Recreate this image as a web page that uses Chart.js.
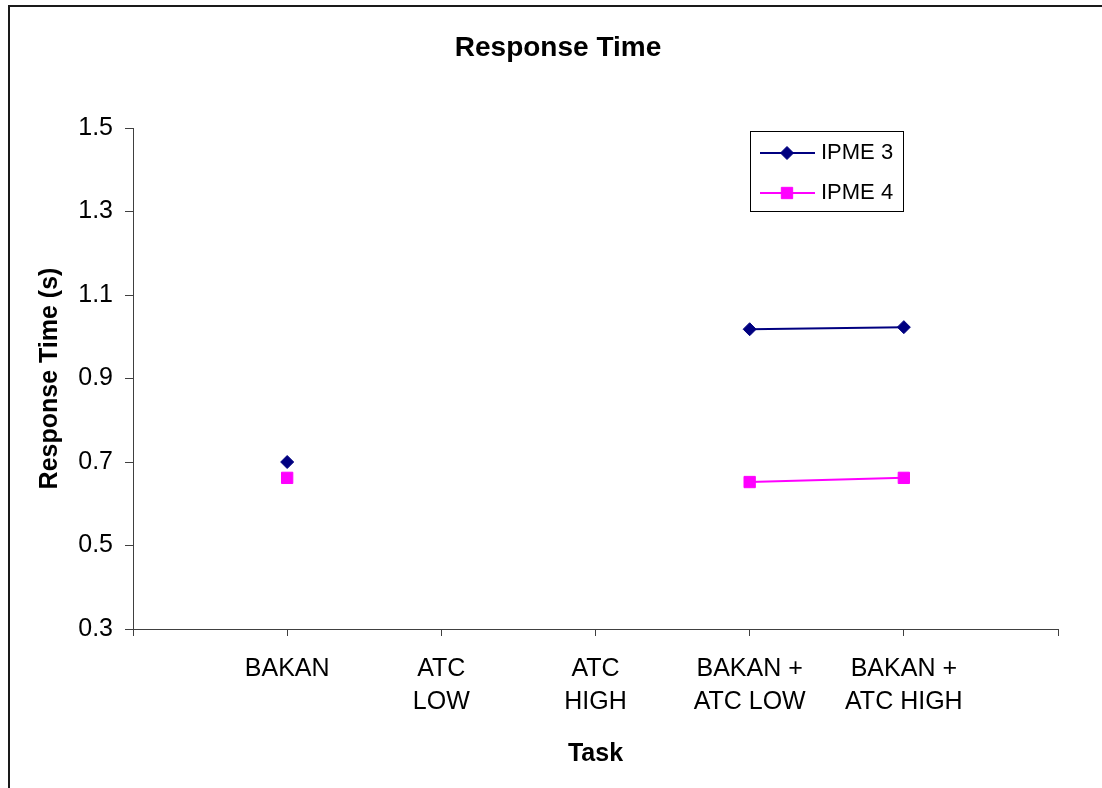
<!DOCTYPE html>
<html>
<head>
<meta charset="utf-8">
<title>Response Time</title>
<script src="https://cdn.jsdelivr.net/npm/chart.js@4.4.1/dist/chart.umd.min.js"></script>
<style>
  html, body { margin: 0; padding: 0; background: #fff; overflow: hidden; }
  #wrap { position: relative; width: 1102px; height: 788px; }
</style>
</head>
<body>
<div id="wrap"><canvas id="rt-chart"></canvas></div>
<script>
// values
const chartTitle = 'Response Time';
const categories = [['BAKAN'], ['ATC', 'LOW'], ['ATC', 'HIGH'], ['BAKAN +', 'ATC LOW'], ['BAKAN +', 'ATC HIGH']];
const ipme3 = [0.700, null, null, 1.018, 1.023];
const ipme4 = [0.662, null, null, 0.652, 0.662];
const yTicks = [0.3, 0.5, 0.7, 0.9, 1.1, 1.3, 1.5];

const FONT = "'Liberation Sans', Arial, sans-serif";
const AXIS = '#404040';

Chart.defaults.font.family = FONT;
Chart.defaults.color = '#000';

// excel puts the points on tick marks, with an empty slot at each end
const labels = ['', ...categories, ''];
const pad = (arr) => [null, ...arr, null];

// chart border: only the left and top edges are in the picture
const frame = {
  id: 'frame',
  beforeDraw(chart) {
    const ctx = chart.ctx;
    ctx.save();
    ctx.strokeStyle = '#1a1a1a';
    ctx.lineWidth = 2;
    ctx.beginPath();
    ctx.moveTo(9, chart.height);
    ctx.lineTo(9, 6);
    ctx.lineTo(chart.width, 6);
    ctx.stroke();
    ctx.restore();
  }
};

const titleText = {
  id: 'titleText',
  afterDraw(chart) {
    const ctx = chart.ctx;
    ctx.save();
    ctx.font = `bold 28px ${FONT}`;
    ctx.fillStyle = '#000';
    ctx.textAlign = 'center';
    ctx.textBaseline = 'alphabetic';
    ctx.fillText(chartTitle, 558, 56);
    ctx.restore();
  }
};

// boxed legend inside the plot, like the excel one
const boxLegend = {
  id: 'boxLegend',
  afterDraw(chart) {
    const ctx = chart.ctx;
    const left = 750, top = 131, w = 153, h = 80;
    ctx.save();
    ctx.fillStyle = '#fff';
    ctx.fillRect(left, top, w, h);
    ctx.strokeStyle = '#000';
    ctx.lineWidth = 1;
    ctx.strokeRect(left + 0.5, top + 0.5, w, h);

    chart.data.datasets.forEach((ds, i) => {
      const y = 153 + i * 40;
      ctx.strokeStyle = ds.borderColor;
      ctx.lineWidth = ds.borderWidth;
      ctx.beginPath();
      ctx.moveTo(760, y);
      ctx.lineTo(815, y);
      ctx.stroke();

      ctx.fillStyle = ds.pointBackgroundColor;
      ctx.strokeStyle = ds.pointBorderColor;
      ctx.lineWidth = 1;
      Chart.helpers.drawPoint(ctx, {
        pointStyle: ds.pointStyle,
        radius: ds.pointRadius,
        rotation: 0,
        borderWidth: 1
      }, 787, y);

      ctx.fillStyle = '#000';
      ctx.font = `22px ${FONT}`;
      ctx.textAlign = 'left';
      ctx.textBaseline = 'alphabetic';
      ctx.fillText(ds.label, 821, y + 6);
    });
    ctx.restore();
  }
};

new Chart(document.getElementById('rt-chart'), {
  type: 'line',
  data: {
    labels: labels,
    datasets: [{
      label: 'IPME 3',
      data: pad(ipme3),
      borderColor: '#000080',
      backgroundColor: '#000080',
      borderWidth: 2,
      pointStyle: 'rectRot',
      pointRadius: 6.5,
      pointBackgroundColor: '#000080',
      pointBorderColor: '#000080',
      pointBorderWidth: 1,
      spanGaps: false,
      tension: 0
    }, {
      label: 'IPME 4',
      data: pad(ipme4),
      borderColor: '#FF00FF',
      backgroundColor: '#FF00FF',
      borderWidth: 2,
      pointStyle: 'rect',
      pointRadius: 8,
      pointBackgroundColor: '#FF00FF',
      pointBorderColor: '#FF00FF',
      pointBorderWidth: 1,
      spanGaps: false,
      tension: 0
    }]
  },
  plugins: [frame, titleText, boxLegend],
  options: {
    responsive: true,
    maintainAspectRatio: false,
    animation: false,
    layout: {
      padding: { top: 128, bottom: 0, left: 0, right: 44 }
    },
    plugins: {
      legend: { display: false },
      title: { display: false },
      tooltip: { enabled: false }
    },
    scales: {
      x: {
        type: 'category',
        offset: false,
        grid: {
          display: true,
          drawOnChartArea: false,
          drawTicks: true,
          tickLength: 7,
          color: AXIS
        },
        border: { display: true, color: AXIS, width: 1 },
        ticks: {
          autoSkip: false,
          maxRotation: 0,
          padding: 17,
          color: '#000',
          font: { size: 25, lineHeight: 1.32 }
        },
        title: {
          display: true,
          text: 'Task',
          color: '#000',
          font: { size: 25, weight: 'bold' },
          padding: { top: 0, bottom: 19 }
        },
        afterFit(scale) { scale.height = 159; }
      },
      y: {
        min: yTicks[0],
        max: yTicks[yTicks.length - 1],
        afterBuildTicks(scale) {
          scale.ticks = yTicks.map((v) => ({ value: v }));
        },
        grid: {
          display: true,
          drawOnChartArea: false,
          drawTicks: true,
          tickLength: 8,
          color: AXIS
        },
        border: { display: true, color: AXIS, width: 1 },
        ticks: {
          padding: 12,
          color: '#000',
          font: { size: 25 },
          callback: (v) => Number(v).toFixed(1)
        },
        title: {
          display: true,
          text: 'Response Time (s)',
          color: '#000',
          font: { size: 25, weight: 'bold' },
          padding: { top: 35, bottom: 0 }
        },
        afterFit(scale) { scale.width = 133; }
      }
    }
  }
});
</script>
</body>
</html>
